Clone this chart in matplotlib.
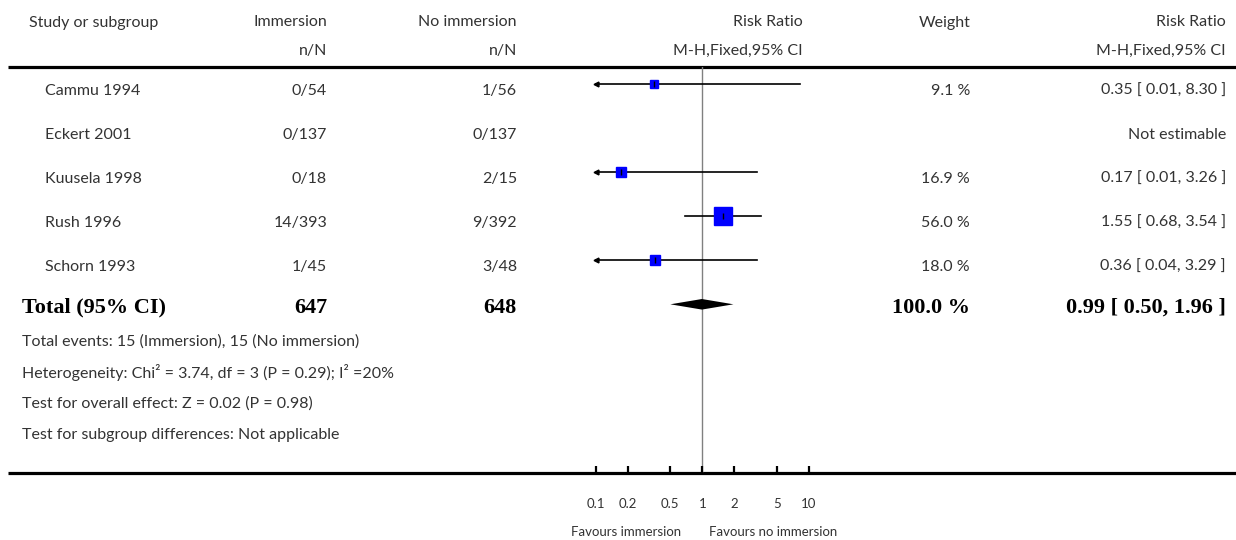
import numpy as np
import matplotlib
matplotlib.use("Agg")
import matplotlib.pyplot as plt

# ---------------- data ----------------
studies = ["Cammu 1994", "Eckert 2001", "Kuusela 1998", "Rush 1996", "Schorn 1993"]
imm_nN = ["0/54", "0/137", "0/18", "14/393", "1/45"]
noimm_nN = ["1/56", "0/137", "2/15", "9/392", "3/48"]
weights = [9.1, np.nan, 16.9, 56.0, 18.0]
rr = [0.35, np.nan, 0.17, 1.55, 0.36]
lo = [0.01, np.nan, 0.01, 0.68, 0.04]
hi = [8.30, np.nan, 3.26, 3.54, 3.29]
rr_text = ["0.35 [ 0.01, 8.30 ]", "Not estimable", "0.17 [ 0.01, 3.26 ]",
           "1.55 [ 0.68, 3.54 ]", "0.36 [ 0.04, 3.29 ]"]
w_text = ["9.1 %", "", "16.9 %", "56.0 %", "18.0 %"]

tot_imm, tot_noimm = "647", "648"
tot_w = "100.0 %"
tot_rr, tot_lo, tot_hi = 0.99, 0.50, 1.96
tot_text = "0.99 [ 0.50, 1.96 ]"

footer = ["Total events: 15 (Immersion), 15 (No immersion)",
          "Heterogeneity: Chi² = 3.74, df = 3 (P = 0.29); I² =20%",
          "Test for overall effect: Z = 0.02 (P = 0.98)",
          "Test for subgroup differences: Not applicable"]

ticks = [0.1, 0.2, 0.5, 1, 2, 5, 10]
tick_labels = ["0.1", "0.2", "0.5", "1", "2", "5", "10"]

# ---------------- layout (pixels) ----------------
W, H = 1236, 540
sans = ["Lato", "DejaVu Sans"]
serif = ["Liberation Serif", "DejaVu Serif"]
tc = "#333333"
fs = 11.5
fsb = 16

fig = plt.figure(figsize=(W / 100, H / 100), dpi=100)
ax = fig.add_axes([0, 0, 1, 1])
ax.set_xlim(0, W)
ax.set_ylim(H, 0)
ax.axis("off")

row0, drow = 84.3, 44.0
top_line, bot_line = 67, 473
txt_off = 5


def t(x, y, s, ha="left", size=fs):
    ax.text(x, y, s, ha=ha, va="center_baseline", fontsize=size, family=sans, color=tc)


# header
t(29, 21, "Study or subgroup")
t(327, 21, "Immersion", "right")
t(517, 21, "No immersion", "right")
t(803, 21, "Risk Ratio", "right")
t(971, 21, "Weight", "right")
t(1226, 21, "Risk Ratio", "right")
t(327, 49, "n/N", "right")
t(517, 49, "n/N", "right")
t(803, 49, "M-H,Fixed,95% CI", "right")
t(1226, 49, "M-H,Fixed,95% CI", "right")

ax.plot([8, W], [top_line, top_line], color="black", lw=2.3, solid_capstyle="butt")
ax.plot([8, W], [bot_line, bot_line], color="black", lw=2.3, solid_capstyle="butt")

for i, name in enumerate(studies):
    y = row0 + drow * i + txt_off
    t(45, y, name)
    t(327, y, imm_nN[i], "right")
    t(517, y, noimm_nN[i], "right")
    t(970, y, w_text[i], "right")
    t(1226, y, rr_text[i], "right")

yt = row0 + drow * 5 + 1
for x, s, ha in [(22, "Total (95% CI)", "left"), (327, tot_imm, "right"), (517, tot_noimm, "right"),
                 (970, tot_w, "right"), (1226, tot_text, "right")]:
    ax.text(x, yt, s, ha=ha, va="center_baseline", fontsize=fsb, family=serif, weight="bold", color="black")

for k, line in enumerate(footer):
    t(22, 340 + 31 * k, line)

t(626, 531, "Favours immersion", "center", 9.5)
t(773, 531, "Favours no immersion", "center", 9.5)

# ---------------- forest axes ----------------
x_lo_px, x_hi_px = 596.0, 808.7
fx = fig.add_axes([x_lo_px / W, 1 - bot_line / H, (x_hi_px - x_lo_px) / W, (bot_line - top_line) / H])
fx.set_xscale("log")
fx.set_xlim(0.1, 10)
fx.set_ylim((bot_line - row0) / drow, (top_line - row0) / drow)
fx.patch.set_alpha(0)
for s in fx.spines.values():
    s.set_visible(False)
fx.set_yticks([])
fx.set_xticks(ticks)
fx.set_xticklabels(tick_labels, family=sans, fontsize=9.5, color=tc)
fx.minorticks_off()
fx.tick_params(axis="x", direction="in", length=5, width=1.6, pad=18, colors="black", labelcolor=tc)

fx.axvline(1, color="#808080", lw=1, zorder=1)

xmin = 0.1
for i in range(len(studies)):
    if np.isnan(rr[i]):
        continue
    left = max(lo[i], xmin)
    fx.plot([left, hi[i]], [i, i], color="black", lw=1.2, zorder=2, clip_on=False)
    if lo[i] < xmin:
        fx.plot([xmin], [i], marker="<", ms=3.5, color="black", zorder=3, clip_on=False)
    ms = 12.6 * np.sqrt(weights[i] / 56.0)
    fx.plot([rr[i]], [i], marker="s", ms=ms, mfc="#0000ff", mec="#0000ff", lw=0, zorder=3)
    fx.plot([rr[i]], [i], marker="|", ms=4, color="black", mew=1, zorder=4)

h = 0.12
fx.fill([tot_lo, tot_rr, tot_hi, tot_rr], [5, 5 - h, 5, 5 + h], color="black", lw=0, zorder=3)

fig.savefig("out.png", dpi=100)
